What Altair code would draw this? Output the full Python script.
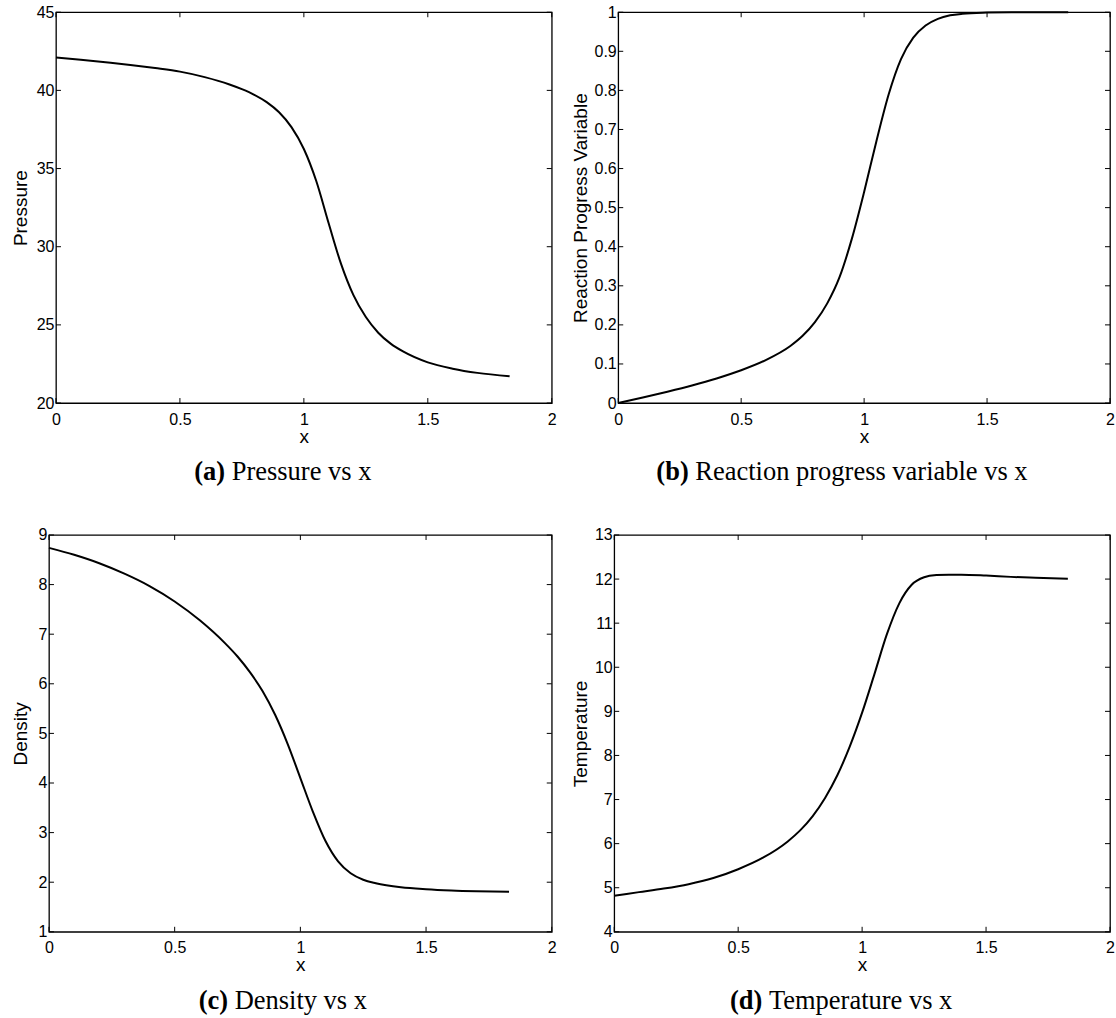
import altair as alt
import pandas as pd

# Shared x ticks for every panel
x_ticks = [0, 0.5, 1, 1.5, 2]

# (a) Pressure
pressure_x = [0, 0.1, 0.2, 0.3, 0.4, 0.5, 0.6, 0.7, 0.75, 0.8, 0.85, 0.9,
              0.95, 1.0, 1.05, 1.1, 1.15, 1.2, 1.25, 1.3, 1.35, 1.4, 1.5,
              1.6, 1.7, 1.83]
pressure_y = [42.1, 41.96, 41.8, 41.63, 41.43, 41.2, 40.85, 40.38, 40.08,
              39.72, 39.25, 38.6, 37.65, 36.25, 34.2, 31.5, 28.9, 26.9, 25.5,
              24.5, 23.8, 23.3, 22.6, 22.2, 21.93, 21.72]
pressure_ticks = [20, 25, 30, 35, 40, 45]

# (b) Reaction progress variable
progress_x = [0, 0.1, 0.2, 0.3, 0.4, 0.5, 0.6, 0.7, 0.75, 0.8, 0.85, 0.9,
              0.95, 1.0, 1.05, 1.1, 1.15, 1.2, 1.25, 1.3, 1.35, 1.4, 1.5,
              1.6, 1.7, 1.83]
progress_y = [0, 0.014, 0.029, 0.045, 0.063, 0.084, 0.11, 0.146, 0.172,
              0.207, 0.255, 0.322, 0.42, 0.54, 0.67, 0.79, 0.88, 0.935,
              0.966, 0.983, 0.992, 0.996, 0.999, 1.0, 1.0, 1.0]
progress_ticks = [0, 0.1, 0.2, 0.3, 0.4, 0.5, 0.6, 0.7, 0.8, 0.9, 1]

# (c) Density
density_x = [0, 0.1, 0.2, 0.3, 0.4, 0.5, 0.6, 0.7, 0.75, 0.8, 0.85, 0.9,
             0.95, 1.0, 1.05, 1.1, 1.15, 1.2, 1.25, 1.3, 1.4, 1.5, 1.6, 1.7,
             1.83]
density_y = [8.74, 8.6, 8.43, 8.22, 7.97, 7.66, 7.28, 6.82, 6.55, 6.23, 5.85,
             5.37, 4.78, 4.1, 3.42, 2.83, 2.42, 2.18, 2.05, 1.98, 1.9, 1.86,
             1.835, 1.82, 1.81]
density_ticks = [1, 2, 3, 4, 5, 6, 7, 8, 9]

# (d) Temperature
temp_x = [0, 0.1, 0.2, 0.3, 0.4, 0.5, 0.6, 0.7, 0.75, 0.8, 0.85, 0.9, 0.95,
          1.0, 1.05, 1.1, 1.15, 1.2, 1.25, 1.3, 1.35, 1.4, 1.5, 1.6, 1.7,
          1.83]
temp_y = [4.82, 4.9, 4.98, 5.08, 5.22, 5.42, 5.68, 6.05, 6.3, 6.62, 7.03,
          7.55, 8.2, 8.97, 9.85, 10.75, 11.45, 11.87, 12.04, 12.09, 12.1,
          12.1, 12.08, 12.05, 12.03, 12.01]
temp_ticks = [4, 5, 6, 7, 8, 9, 10, 11, 12, 13]

SANS = "Liberation Sans"
SERIF = "Liberation Serif"
CAPTION_SIZE = 26.5
TITLE_SIZE = 19
TICK_LEN = 5

# Times-style advance widths (1/1000 em) used to centre the two-part captions
SERIF_REG = {" ": 250, "P": 556, "R": 667, "D": 722, "T": 611, "a": 444,
             "b": 500, "c": 444, "e": 444, "g": 500, "i": 278, "l": 278,
             "m": 778, "n": 500, "o": 500, "p": 500, "r": 333, "s": 389,
             "t": 278, "u": 500, "v": 500, "x": 500, "y": 500}
SERIF_BOLD = {"(": 333, ")": 333, "a": 500, "b": 556, "c": 444, "d": 556}


def text_width(s, table, size):
    return sum(table.get(ch, 500) for ch in s) * size / 1000.0


def panel(xs, ys, y_title, y_domain, y_ticks, width, height, y_extent,
          tag, caption, cap_center):
    curve = pd.DataFrame({"x": xs, "y": ys})
    xt = pd.DataFrame({"x": x_ticks})
    yt = pd.DataFrame({"y": y_ticks})

    x_scale = alt.Scale(domain=[0, 2], nice=False, zero=False)
    y_scale = alt.Scale(domain=y_domain, nice=False, zero=False)
    common = dict(ticks=False, tickSize=0, domain=False, grid=False,
                  labelFont=SANS, labelFontSize=16, labelColor="black",
                  titleFont=SANS, titleFontSize=TITLE_SIZE,
                  titleFontWeight="normal", titleColor="black",
                  labelFlush=False, labelOverlap=False, format="~g")
    x_axis = alt.Axis(values=x_ticks, title="x", labelPadding=8,
                      titlePadding=0, **common)
    y_axis = alt.Axis(values=y_ticks, title=y_title, labelPadding=2,
                      titlePadding=0, minExtent=y_extent, maxExtent=y_extent,
                      **common)
    X = alt.X("x:Q", scale=x_scale, axis=x_axis)
    Y = alt.Y("y:Q", scale=y_scale, axis=y_axis)

    line = alt.Chart(curve).mark_line(
        color="black", strokeWidth=2, interpolate="monotone"
    ).encode(x=X, y=Y)

    # inward-pointing ticks on all four sides of the box
    rule = dict(color="black", strokeWidth=1)
    bottom = alt.Chart(xt).mark_rule(**rule).encode(
        x=X, y=alt.value(height), y2=alt.value(height - TICK_LEN))
    top = alt.Chart(xt).mark_rule(**rule).encode(
        x=X, y=alt.value(0), y2=alt.value(TICK_LEN))
    left = alt.Chart(yt).mark_rule(**rule).encode(
        y=Y, x=alt.value(0), x2=alt.value(TICK_LEN))
    right = alt.Chart(yt).mark_rule(**rule).encode(
        y=Y, x=alt.value(width), x2=alt.value(width - TICK_LEN))

    # caption: bold tag followed by regular description, centred under the
    # whole sub-figure (axis labels included)
    tag_w = text_width(tag, SERIF_BOLD, CAPTION_SIZE)
    gap = 250 * CAPTION_SIZE / 1000.0
    cap_w = text_width(caption, SERIF_REG, CAPTION_SIZE)
    start = cap_center - (tag_w + gap + cap_w) / 2
    cap_y = height + 77
    tag_mark = alt.Chart(pd.DataFrame({"t": [tag]})).mark_text(
        font=SERIF, fontSize=CAPTION_SIZE, fontWeight="bold", align="left",
        baseline="alphabetic", color="black"
    ).encode(text="t:N", x=alt.value(start), y=alt.value(cap_y))
    cap_mark = alt.Chart(pd.DataFrame({"t": [caption]})).mark_text(
        font=SERIF, fontSize=CAPTION_SIZE, fontWeight="normal", align="left",
        baseline="alphabetic", color="black"
    ).encode(text="t:N", x=alt.value(start + tag_w + gap), y=alt.value(cap_y))

    return alt.layer(line, bottom, top, left, right, tag_mark, cap_mark
                     ).properties(width=width, height=height)


def lead():
    # tiny invisible leading cell so each row is laid out from its left edge
    return alt.Chart(pd.DataFrame({"v": [0]})).mark_text(
        text=" ", fontSize=1, opacity=0
    ).encode(x=alt.value(0), y=alt.value(0)).properties(
        width=1, height=1,
        view=alt.ViewBackground(stroke="transparent", strokeWidth=0))


pa = panel(pressure_x, pressure_y, "Pressure", [20, 45], pressure_ticks,
           496, 391, 25, "(a)", "Pressure vs x", 227)
pb = panel(progress_x, progress_y, "Reaction Progress Variable", [0, 1],
           progress_ticks, 492, 391, 28, "(b)",
           "Reaction progress variable vs x", 224)
pc = panel(density_x, density_y, "Density", [1, 9], density_ticks,
           503, 397, 18, "(c)", "Density vs x", 234)
pd_ = panel(temp_x, temp_y, "Temperature", [4, 13], temp_ticks,
            496, 397, 24, "(d)", "Temperature vs x", 228)

chart = alt.vconcat(
    alt.hconcat(lead(), pa, pb, spacing=12.5),
    alt.hconcat(lead(), pc, pd_, spacing=12.5),
    spacing=39,
).properties(
    padding={"left": -2.5, "top": 3, "right": 0, "bottom": 0},
    background="white",
).configure_view(stroke="black", strokeWidth=1.3)

chart.save("out.html", embed_options={"renderer": "svg", "actions": False})
